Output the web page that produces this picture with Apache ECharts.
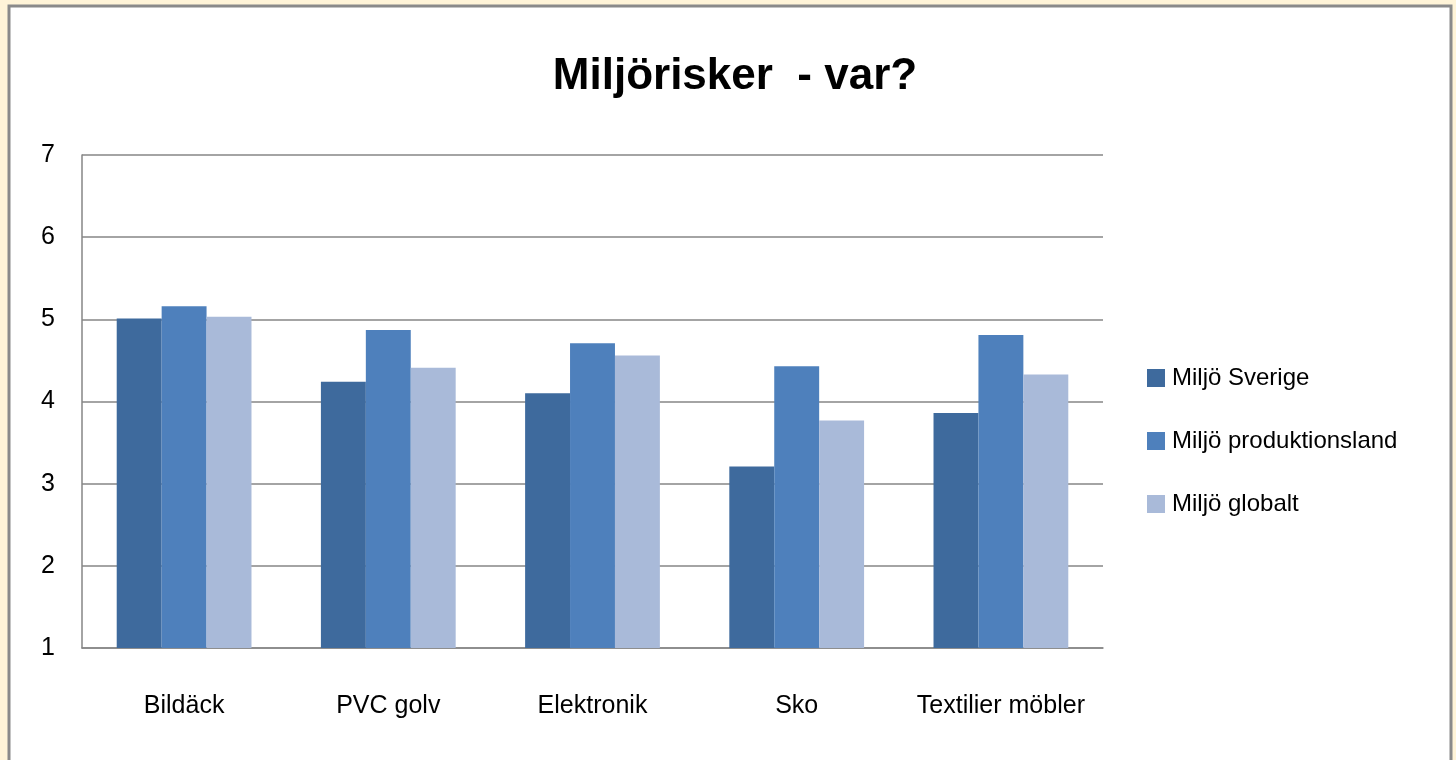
<!DOCTYPE html>
<html>
<head>
<meta charset="utf-8">
<script src="https://cdn.jsdelivr.net/npm/echarts@6/dist/echarts.min.js"></script>
<style>
  html, body { margin:0; padding:0; background:#fff4d8; }
  #chart { width:1456px; height:760px; }
</style>
</head>
<body>
<div id="chart"></div>
<script>
var categories = ['Bildäck', 'PVC golv', 'Elektronik', 'Sko', 'Textilier möbler'];
var seriesNames = ['Miljö Sverige', 'Miljö produktionsland', 'Miljö globalt'];
var sverige = [5.01, 4.24, 4.10, 3.21, 3.86];
var produktionsland = [5.16, 4.87, 4.71, 4.43, 4.81];
var globalt = [5.03, 4.41, 4.56, 3.77, 4.33];
var colors = ['#3e6a9d', '#4e80bc', '#a9bad9'];
var fontName = '"Liberation Sans", sans-serif';

var myChart = echarts.init(document.getElementById('chart'));

var option = {
  animation: false,
  backgroundColor: '#fff4d8',
  graphic: [{
    type: 'rect',
    z: -10,
    silent: true,
    shape: { x: 9, y: 6, width: 1442, height: 770 },
    style: { fill: '#ffffff', stroke: '#8a8a8a', lineWidth: 3 }
  }],
  title: {
    text: 'Miljörisker  - var?',
    left: 730,
    top: 50,
    textAlign: 'center',
    textStyle: { fontFamily: fontName, fontSize: 44, fontWeight: 'bold', color: '#000' }
  },
  legend: {
    orient: 'vertical',
    left: 1147,
    top: 366,
    padding: 0,
    itemWidth: 18,
    itemHeight: 18,
    itemGap: 39,
    icon: 'rect',
    data: seriesNames,
    textStyle: { fontFamily: fontName, fontSize: 24, color: '#000', padding: [0, 0, 0, 2] }
  },
  grid: { left: 82, right: 353, top: 155, bottom: 112 },
  xAxis: {
    type: 'category',
    data: categories,
    axisLine: { lineStyle: { color: '#868686', width: 1.5 } },
    axisTick: { show: false },
    axisLabel: { interval: 0, margin: 46, fontFamily: fontName, fontSize: 25, color: '#000' }
  },
  yAxis: {
    type: 'value',
    min: 1,
    max: 7,
    interval: 1,
    axisLine: { show: true, lineStyle: { color: '#868686', width: 1.5 } },
    axisTick: { show: false },
    splitLine: { lineStyle: { color: '#868686', width: 1.5 } },
    axisLabel: { margin: 27, padding: [6, 0, 0, 0], fontFamily: fontName, fontSize: 25, color: '#000' }
  },
  series: [
    { name: seriesNames[0], type: 'bar', data: sverige, barGap: '0%', barCategoryGap: '34%', itemStyle: { color: colors[0] } },
    { name: seriesNames[1], type: 'bar', data: produktionsland, barGap: '0%', barCategoryGap: '34%', itemStyle: { color: colors[1] } },
    { name: seriesNames[2], type: 'bar', data: globalt, barGap: '0%', barCategoryGap: '34%', itemStyle: { color: colors[2] } }
  ]
};
myChart.setOption(option);
</script>
</body>
</html>
